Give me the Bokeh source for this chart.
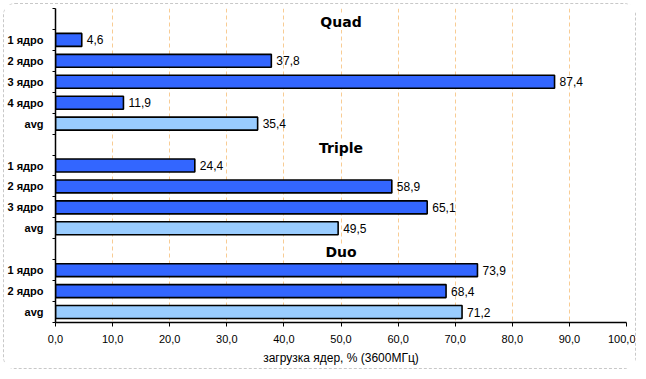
from bokeh.plotting import figure
from bokeh.models import FixedTicker, Range1d, ColumnDataSource, Label, LabelSet
from bokeh.core.properties import value
from bokeh.embed import file_html
from bokeh.resources import INLINE

groups = ["Quad", "Triple", "Duo"]
cores = [
    ["1 ядро", "2 ядро", "3 ядро", "4 ядро", "avg"],
    ["1 ядро", "2 ядро", "3 ядро", "avg"],
    ["1 ядро", "2 ядро", "avg"],
]
values = [
    [4.6, 37.8, 87.4, 11.9, 35.4],
    [24.4, 58.9, 65.1, 49.5],
    [73.9, 68.4, 71.2],
]
x_ticks = [0, 10, 20, 30, 40, 50, 60, 70, 80, 90, 100]
x_title = "загрузка ядер, % (3600МГц)"

ys, xs, cols, txts = [], [], [], []
label_over = {}
title_rows = []
row = 0
for g, cs, vs in zip(groups, cores, values):
    title_rows.append(row)
    row += 1
    for c, v in zip(cs, vs):
        y = row + 0.5
        ys.append(y)
        xs.append(v)
        cols.append("#99ccff" if c == "avg" else "#3366ff")
        txts.append(f"{v:.1f}".replace(".", ","))
        label_over[y] = c
        row += 1
nrows = row

src = ColumnDataSource(dict(y=ys, x=xs, color=cols, txt=txts))

p = figure(width=633, height=366, output_backend="svg", toolbar_location=None,
           x_range=Range1d(0, 100), y_range=Range1d(nrows, 0),
           min_border_left=50, min_border_right=11, min_border_top=4, min_border_bottom=48)
p.styles = {"margin-left": "3px", "margin-top": "3px",
            "border": "1px dashed #c8c8c8", "border-radius": "12px"}
p.outline_line_color = None
p.background_fill_color = "white"

p.hbar(y="y", right="x", left=0, height=0.62, source=src, fill_color="color",
       line_color="black", line_width=1.6)

p.add_layout(LabelSet(x="x", y="y", text="txt", source=src, x_offset=5,
                      text_baseline="middle", text_font=value("Liberation Sans"),
                      text_font_size=value("12px"), text_color=value("black")))

for g, r in zip(groups, title_rows):
    p.add_layout(Label(x=50, y=r + 0.5, text=g, text_align="center",
                       text_baseline="middle", y_offset=-3,
                       text_font="DejaVu Sans", text_font_style="bold",
                       text_font_size="14px", text_color="black",
                       background_fill_color="white"))

# x axis
p.xaxis.ticker = FixedTicker(ticks=x_ticks)
p.xaxis.major_label_overrides = {t: f"{t:.1f}".replace(".", ",") for t in x_ticks}
p.xaxis.major_label_text_font = "Liberation Sans"
p.xaxis.major_label_text_font_size = "11px"
p.xaxis.major_label_text_color = "black"
p.xaxis.major_tick_in = 0
p.xaxis.major_tick_out = 4
p.xaxis.minor_tick_line_color = None
p.xaxis.axis_line_color = "black"
p.xaxis.axis_line_width = 1.5
p.xaxis.major_tick_line_color = "black"
p.xaxis.major_label_standoff = 8
p.xaxis.axis_label = x_title
p.xaxis.axis_label_text_font = "Liberation Sans"
p.xaxis.axis_label_text_font_size = "12px"
p.xaxis.axis_label_text_font_style = "normal"
p.xaxis.axis_label_text_color = "black"
p.xaxis.axis_label_standoff = 5

# y axis
p.yaxis.ticker = FixedTicker(ticks=ys, minor_ticks=list(range(nrows + 1)))
p.yaxis.major_label_overrides = label_over
p.yaxis.major_tick_in = 0
p.yaxis.major_tick_out = 0
p.yaxis.minor_tick_in = 0
p.yaxis.minor_tick_out = 3
p.yaxis.minor_tick_line_color = "black"
p.yaxis.axis_line_color = "black"
p.yaxis.axis_line_width = 1.5
p.yaxis.major_label_text_font = "Liberation Sans"
p.yaxis.major_label_text_font_style = "bold"
p.yaxis.major_label_text_font_size = "11px"
p.yaxis.major_label_text_color = "black"
p.yaxis.major_label_standoff = 9

p.ygrid.grid_line_color = None
p.xgrid.ticker = FixedTicker(ticks=x_ticks[1:-1])
p.xgrid.grid_line_color = "#f8cc94"
p.xgrid.grid_line_dash = "4 3"
p.xgrid.grid_line_width = 1

open("out.html", "w").write(file_html(p, INLINE))
